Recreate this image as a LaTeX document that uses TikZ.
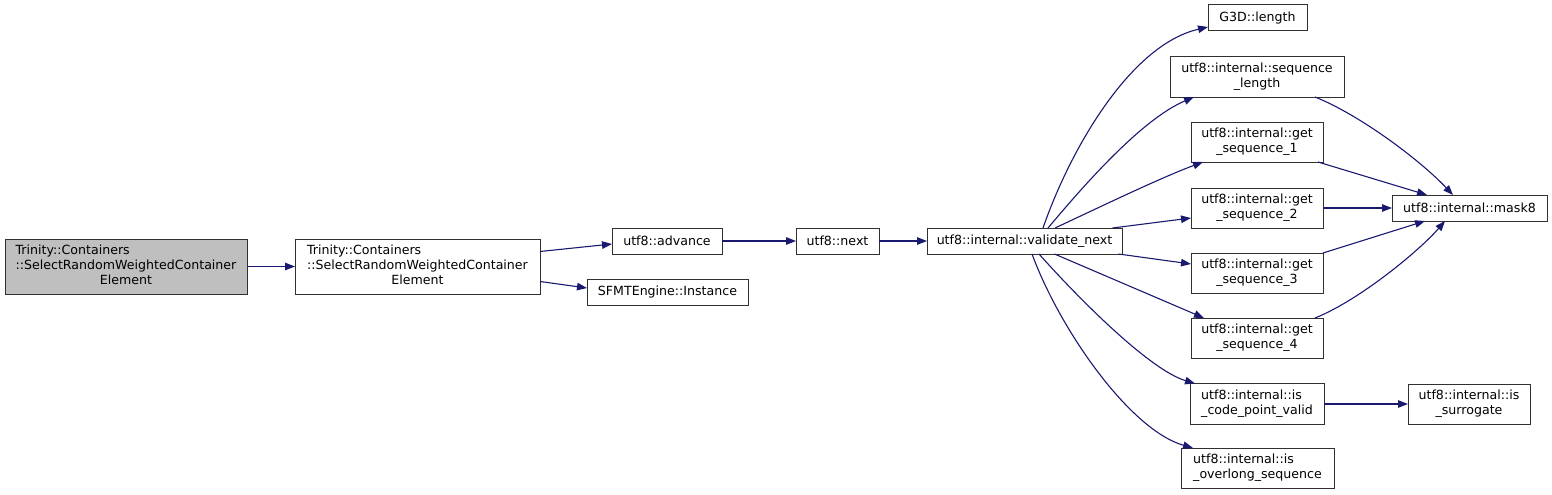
\documentclass[tikz,border=0pt]{standalone}
\usepackage{fontspec}
\setmainfont{DejaVu Sans}
\usetikzlibrary{arrows.meta}
\definecolor{edgeblue}{HTML}{191970}
\definecolor{boxline}{HTML}{303030}
\definecolor{startfill}{HTML}{BFBFBF}
\newcommand{\twol}[2]{\begin{tabular}{@{}l@{}}#1\\\multicolumn{1}{@{}c@{}}{#2}\end{tabular}}
\newcommand{\threel}[3]{\begin{tabular}{@{}l@{}}#1\\#2\\\multicolumn{1}{@{}c@{}}{#3}\end{tabular}}
\begin{document}
\begin{tikzpicture}[x=1pt,y=-1pt,
  box/.style={draw=boxline, line width=1pt, fill=white, inner sep=0pt, outer sep=0pt,
    font=\fontsize{12.6}{15}\selectfont, align=center},
  edge/.style={draw=edgeblue, line width=1.1pt, -{Triangle[length=10pt,width=7.5pt,fill=edgeblue]}}]
\renewcommand{\arraystretch}{1}
\setlength{\tabcolsep}{0pt}
\useasboundingbox (0,0) rectangle (1552,495);
% nodes
\node[box, fill=startfill, minimum width=242, minimum height=55] (A) at (126,266.5)
  {\threel{Trinity::Containers}{::SelectRandomWeightedContainer}{Element}};
\node[box, minimum width=245, minimum height=55] (B) at (417.5,266.5)
  {\threel{Trinity::Containers}{::SelectRandomWeightedContainer}{Element}};
\node[box, minimum width=110, minimum height=26] (adv) at (667,241) {utf8::advance};
\node[box, minimum width=161, minimum height=26] (sfmt) at (667.5,292.5) {SFMTEngine::Instance};
\node[box, minimum width=83, minimum height=26] (nxt) at (837.5,241) {utf8::next};
\node[box, minimum width=195, minimum height=26] (val) at (1024.5,241) {utf8::internal::validate\_next};
\node[box, minimum width=99, minimum height=26] (g3d) at (1257.5,18) {G3D::length};
\node[box, minimum width=174, minimum height=40] (seql) at (1257,77) {\twol{utf8::internal::sequence}{\_length}};
\node[box, minimum width=132, minimum height=40] (gs1) at (1257,142) {\twol{utf8::internal::get}{\_sequence\_1}};
\node[box, minimum width=132, minimum height=40] (gs2) at (1257,208) {\twol{utf8::internal::get}{\_sequence\_2}};
\node[box, minimum width=132, minimum height=40] (gs3) at (1257,273) {\twol{utf8::internal::get}{\_sequence\_3}};
\node[box, minimum width=132, minimum height=40] (gs4) at (1257,338) {\twol{utf8::internal::get}{\_sequence\_4}};
\node[box, minimum width=134, minimum height=41] (cpv) at (1257,404) {\twol{utf8::internal::is}{\_code\_point\_valid}};
\node[box, minimum width=153, minimum height=40] (ovl) at (1257.5,468) {\twol{utf8::internal::is}{\_overlong\_sequence}};
\node[box, minimum width=155, minimum height=26] (mask) at (1469.5,208) {utf8::internal::mask8};
\node[box, minimum width=122, minimum height=40] (sur) at (1469,404) {\twol{utf8::internal::is}{\_surrogate}};
% edges
\draw[edge] (A.east) -- (B.west);
\draw[edge] ([yshift=15]B.east) -- ([yshift=-3]adv.west);
\draw[edge] ([yshift=-15]B.east) -- ([yshift=4.5]sfmt.west);
\draw[edge] (adv.east) -- (nxt.west);
\draw[edge] (nxt.east) -- (val.west);
\draw[edge] ([xshift=18.5]val.north) .. controls (1070,150) and (1130,45) .. ([yshift=-9]g3d.west);
\draw[edge] ([xshift=23.5]val.north) .. controls (1080,190) and (1140,120) .. ([xshift=-63]seql.south);
\draw[edge] ([xshift=30.5]val.north) .. controls (1100,207) and (1160,178) .. ([xshift=-54]gs1.south);
\draw[edge] ([xshift=88]val.north) -- ([yshift=-10]gs2.west);
\draw[edge] ([xshift=94]val.south) -- ([yshift=9]gs3.west);
\draw[edge] ([xshift=30]val.south) -- ([xshift=-53]gs4.north);
\draw[edge] ([xshift=14.5]val.south) .. controls (1080,300) and (1150,370) .. ([xshift=-62]cpv.north);
\draw[edge] ([xshift=7.5]val.south) .. controls (1060,330) and (1130,430) .. ([xshift=-64.5]ovl.north);
\draw[edge] ([xshift=58]seql.south) .. controls (1360,115) and (1420,160) .. ([xshift=-16.5]mask.north);
\draw[edge] ([xshift=-5]gs1.south east) -- ([xshift=-42.5]mask.north);
\draw[edge] (gs2.east) -- (mask.west);
\draw[edge] (gs3.north east) -- ([xshift=-44.5]mask.south);
\draw[edge] ([xshift=58]gs4.north) .. controls (1360,300) and (1420,250) .. ([xshift=-24.5]mask.south);
\draw[edge] (cpv.east) -- (sur.west);
\end{tikzpicture}
\end{document}
